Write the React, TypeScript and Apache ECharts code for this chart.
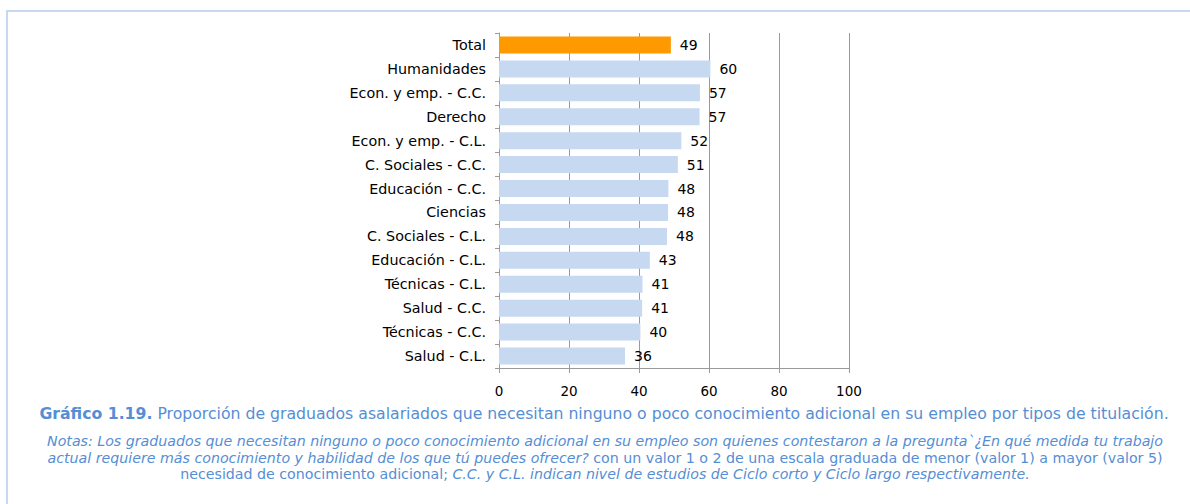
import React, { useEffect, useRef } from "react";
import * as echarts from "echarts";

const categories = [
  "Total",
  "Humanidades",
  "Econ. y emp. - C.C.",
  "Derecho",
  "Econ. y emp. - C.L.",
  "C. Sociales - C.C.",
  "Educación - C.C.",
  "Ciencias",
  "C. Sociales - C.L.",
  "Educación - C.L.",
  "Técnicas - C.L.",
  "Salud - C.C.",
  "Técnicas - C.C.",
  "Salud - C.L.",
];
const values = [49.1, 60.4, 57.4, 57.3, 52.1, 51.1, 48.4, 48.3, 48.0, 43.1, 41.0, 40.9, 40.4, 36.0];
const xTicks = [0, 20, 40, 60, 80, 100];

const captionBold = "Gráfico 1.19.";
const captionText = " Proporción de graduados asalariados que necesitan ninguno o poco conocimiento adicional en su empleo por tipos de titulación.";
const note1 = "Notas: Los graduados que necesitan ninguno o poco conocimiento adicional en su empleo son quienes contestaron a la pregunta`¿En qué medida tu trabajo";
const note2a = "actual requiere más conocimiento y habilidad de los que tú puedes ofrecer?";
const note2b = " con un valor 1 o 2 de una escala graduada de menor (valor 1) a mayor (valor 5)";
const note3a = "necesidad de conocimiento adicional;";
const note3b = " C.C. y C.L. indican nivel de estudios de Ciclo corto y Ciclo largo respectivamente.";

const FONT = "'DejaVu Sans', Verdana, sans-serif";
const BLUE = "#558ED5";
const NOTE_SIZE = 14.2;
const CAP_SIZE = 15.7;

export default function App() {
  const ref = useRef<HTMLDivElement>(null);
  useEffect(() => {
    if (!ref.current) return;
    const chart = echarts.init(ref.current, undefined, { renderer: "svg" });
    chart.setOption({
      animation: false,
      textStyle: { fontFamily: FONT },
      grid: { left: 499, right: 341, top: 33, bottom: 136, containLabel: false },
      xAxis: {
        type: "value",
        min: 0,
        max: 100,
        interval: 20,
        axisLine: { show: true, lineStyle: { color: "#9a9a9a", width: 1 } },
        axisTick: { show: true, length: 5, lineStyle: { color: "#9a9a9a" } },
        splitLine: { show: true, lineStyle: { color: "#9a9a9a", width: 1 } },
        axisLabel: {
          color: "#000",
          fontSize: 13.5,
          fontFamily: FONT,
          margin: 16,
          formatter: (v: number) => (xTicks.includes(v) ? String(v) : ""),
        },
      },
      yAxis: {
        type: "category",
        data: categories,
        inverse: true,
        axisLine: { show: true, lineStyle: { color: "#9a9a9a", width: 1 } },
        axisTick: { show: true, length: 4, lineStyle: { color: "#9a9a9a" } },
        axisLabel: { color: "#000", fontSize: 14.3, fontFamily: FONT, margin: 13 },
      },
      series: [
        {
          type: "bar",
          data: values.map((v, i) => ({
            value: v,
            itemStyle: { color: i === 0 ? "#FF9900" : "#C6D9F1" },
          })),
          barWidth: 17,
          label: {
            show: true,
            position: "right",
            distance: 9,
            color: "#000",
            fontSize: 14,
            fontFamily: FONT,
            formatter: (p: any) => String(Math.round(p.value)),
          },
        },
      ],
      graphic: [
        {
          type: "rect",
          shape: { x: 7, y: 11, width: 1300, height: 600 },
          style: { fill: "none", stroke: "#C6D9F1", lineWidth: 2 },
          silent: true,
        },
        {
          type: "text",
          x: 604,
          y: 413,
          style: {
            text: "{b|" + captionBold + "}{n|" + captionText + "}",
            align: "center",
            verticalAlign: "middle",
            rich: {
              b: { fontFamily: FONT, fontSize: CAP_SIZE, fontWeight: "bold", fill: BLUE },
              n: { fontFamily: FONT, fontSize: CAP_SIZE, fill: BLUE },
            },
          },
        },
        {
          type: "text",
          x: 605,
          y: 441,
          style: {
            text: "{i|" + note1 + "}",
            align: "center",
            verticalAlign: "middle",
            rich: { i: { fontFamily: FONT, fontSize: NOTE_SIZE, fontStyle: "italic", fill: BLUE } },
          },
        },
        {
          type: "text",
          x: 605,
          y: 457.5,
          style: {
            text: "{i|" + note2a + "}{n|" + note2b + "}",
            align: "center",
            verticalAlign: "middle",
            rich: {
              i: { fontFamily: FONT, fontSize: NOTE_SIZE, fontStyle: "italic", fill: BLUE },
              n: { fontFamily: FONT, fontSize: NOTE_SIZE, fill: BLUE },
            },
          },
        },
        {
          type: "text",
          x: 605,
          y: 474,
          style: {
            text: "{n|" + note3a + "}{i|" + note3b + "}",
            align: "center",
            verticalAlign: "middle",
            rich: {
              i: { fontFamily: FONT, fontSize: NOTE_SIZE, fontStyle: "italic", fill: BLUE },
              n: { fontFamily: FONT, fontSize: NOTE_SIZE, fill: BLUE },
            },
          },
        },
      ],
    });
    return () => chart.dispose();
  }, []);
  return (
    <div
      ref={ref}
      style={{ position: "fixed", left: 0, top: 0, width: 1190, height: 504, background: "#fff" }}
    />
  );
}
